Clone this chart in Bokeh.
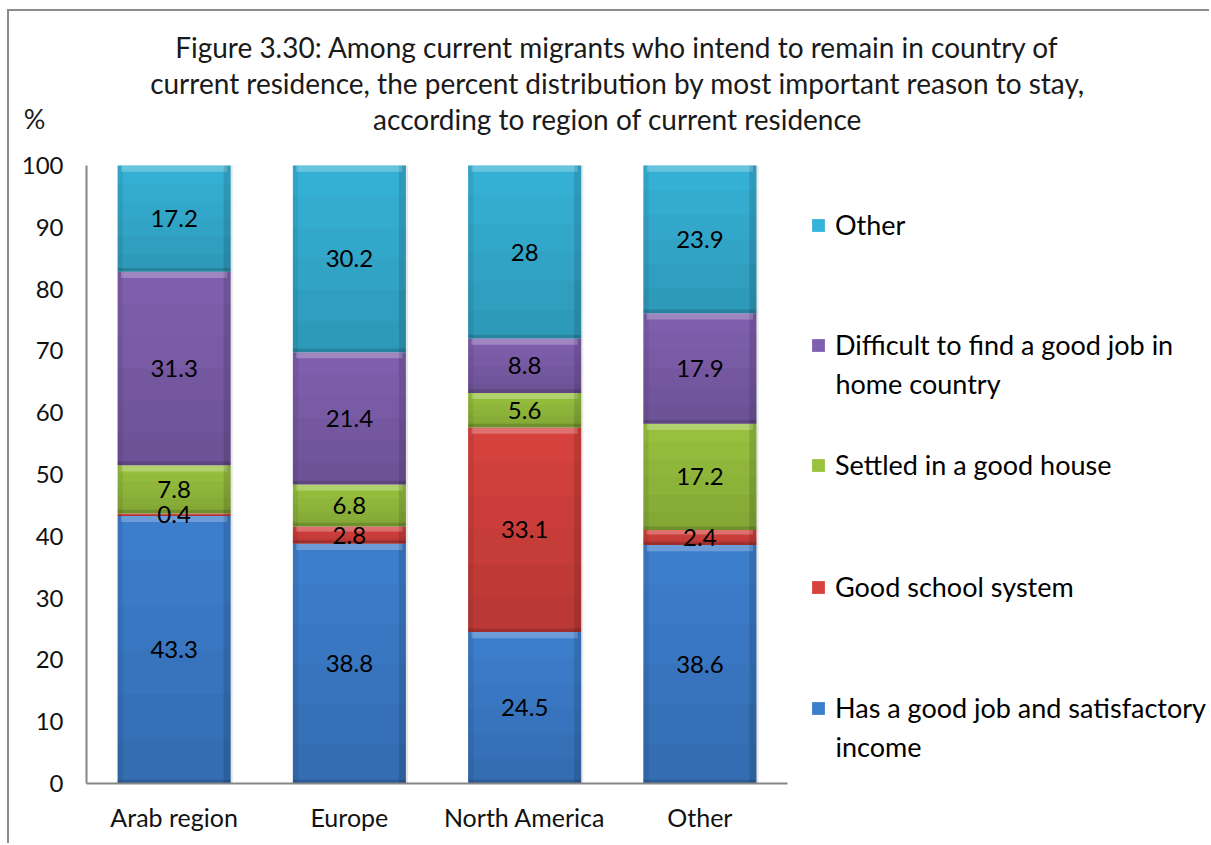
from bokeh.plotting import figure
from bokeh.models import (ColumnDataSource, Range1d, FixedTicker, Label, Legend,
                          LegendItem)
from bokeh.transform import dodge
from bokeh.core.properties import value
from bokeh.embed import file_html
from bokeh.resources import INLINE

# ---------------- data ----------------
regions = ["Arab region", "Europe", "North America", "Other"]
good_job = [43.3, 38.8, 24.5, 38.6]
good_school = [0.4, 2.8, 33.1, 2.4]
good_house = [7.8, 6.8, 5.6, 17.2]
difficult_job = [31.3, 21.4, 8.8, 17.9]
other_reason = [17.2, 30.2, 28.0, 23.9]

series_names = ["Has a good job and satisfactory income", "Good school system",
                "Settled in a good house",
                "Difficult to find a good job in home country", "Other"]
series_values = [good_job, good_school, good_house, difficult_job, other_reason]
series_colors = ["#3D7FCF", "#D8423E", "#99C33F", "#8060B0", "#36B3D8"]

# legend text lines (top-to-bottom order in legend)
legend_lines = [
    ["Other"],
    ["Difficult to find a good job in", "home country"],
    ["Settled in a good house"],
    ["Good school system"],
    ["Has a good job and satisfactory", "income"],
]
legend_series_index = [4, 3, 2, 1, 0]

y_ticks = [0, 10, 20, 30, 40, 50, 60, 70, 80, 90, 100]
title_lines = [
    "Figure 3.30: Among current migrants who intend to remain in country of",
    "current residence, the percent distribution by most important reason to stay,",
    "according to region of current residence",
]
y_unit = "%"

FONT = "Lato"
BAR_W = 0.645

# ---------------- geometry (page pixels) ----------------
CANVAS_X0, CANVAS_Y0 = 9, 11          # page position of the canvas
W, H = 1202, 834
AX_X, AX_Y = 86, 783                  # page position of the axes origin
PX_PER_CAT = 175.25
PX_PER_UNIT = 6.18

x_start = (CANVAS_X0 - AX_X) / PX_PER_CAT
x_end = (CANVAS_X0 + W - AX_X) / PX_PER_CAT
y_end = (AX_Y - CANVAS_Y0) / PX_PER_UNIT
y_start = (AX_Y - (CANVAS_Y0 + H)) / PX_PER_UNIT

def sx(px):
    return px - CANVAS_X0

def sy(py):
    return CANVAS_Y0 + H - py

p = figure(x_range=Range1d(x_start, x_end), y_range=Range1d(y_start, y_end),
           width=W, height=H, output_backend="svg", toolbar_location=None,
           min_border=0, min_border_left=0, min_border_right=0,
           min_border_top=0, min_border_bottom=0)
p.styles = {"margin-left": f"{CANVAS_X0 - 2}px", "margin-top": f"{CANVAS_Y0 - 2}px",
            "border-top": "2px solid #8c8c8c", "border-left": "2px solid #8c8c8c"}
p.outline_line_color = None
p.xgrid.grid_line_color = None
p.ygrid.grid_line_color = None

xcenters = [i + 0.5 for i in range(len(regions))]

p.yaxis.ticker = FixedTicker(ticks=y_ticks)
p.yaxis.bounds = (y_ticks[0], y_ticks[-1])
p.yaxis.fixed_location = 0
p.xaxis.ticker = FixedTicker(ticks=xcenters)
p.xaxis.major_label_overrides = {xc: r for xc, r in zip(xcenters, regions)}
p.xaxis.bounds = (0, len(regions))
p.xaxis.fixed_location = 0
for ax in (p.xaxis[0], p.yaxis[0]):
    ax.axis_line_color = "#868686"
    ax.axis_line_width = 2
    ax.major_tick_line_color = None
    ax.minor_tick_line_color = None
    ax.major_tick_out = 0
    ax.major_tick_in = 0
    ax.major_label_text_font = FONT
    ax.major_label_text_color = "#111111"
p.yaxis.major_label_text_font_size = "24px"
p.xaxis.major_label_text_font_size = "25px"
p.yaxis.major_label_standoff = 23
p.xaxis.major_label_standoff = 18

# shadow behind bars
shadow_src = ColumnDataSource(dict(x=xcenters, top=[sum(v) for v in zip(*series_values)]))
p.vbar(x=dodge("x", 0.012), top="top", bottom=0, width=BAR_W,
       source=shadow_src, fill_color="#000000", fill_alpha=0.10, line_color=None)

renderers = []
bottoms = [0.0] * len(regions)
grad_x, grad_b, grad_t, grad_a = [], [], [], []
hl_x, hl_b, hl_t = [], [], []
bt_x, bt_b, bt_t = [], [], []
ed_x, ed_b, ed_t = [], [], []
lab_x, lab_y, lab_t = [], [], []
for vals, col in zip(series_values, series_colors):
    tops = [b + v for b, v in zip(bottoms, vals)]
    src = ColumnDataSource(dict(x=xcenters, bottom=bottoms, top=tops))
    r = p.vbar(x="x", top="top", bottom="bottom", width=BAR_W, source=src,
               fill_color=col, line_color=None)
    renderers.append(r)
    for c, b, t, v in zip(xcenters, bottoms, tops, vals):
        n = 6
        for k in range(n):
            grad_x.append(c)
            grad_b.append(b + v * k / n)
            grad_t.append(b + v * (k + 1) / n)
            grad_a.append(0.15 * (1 - (k + 0.5) / n))
        hl_x.append(c); hl_b.append(t - min(1.0, 0.3 * v)); hl_t.append(t)
        bt_x.append(c); bt_b.append(b); bt_t.append(b + min(0.6, 0.2 * v))
        ed_x.append(c); ed_b.append(b); ed_t.append(t)
        lab_x.append(c); lab_y.append(b + v / 2); lab_t.append(f"{v:g}")
    bottoms = tops

p.vbar(x="x", top="top", bottom="bottom", width=BAR_W,
       source=ColumnDataSource(dict(x=grad_x, bottom=grad_b, top=grad_t, a=grad_a)),
       fill_color="#000000", fill_alpha="a", line_color=None)
p.vbar(x="x", top="top", bottom="bottom", width=BAR_W * 0.94,
       source=ColumnDataSource(dict(x=hl_x, bottom=hl_b, top=hl_t)),
       fill_color="#ffffff", fill_alpha=0.25, line_color=None)
p.vbar(x="x", top="top", bottom="bottom", width=BAR_W,
       source=ColumnDataSource(dict(x=bt_x, bottom=bt_b, top=bt_t)),
       fill_color="#000000", fill_alpha=0.15, line_color=None)
edge_src = ColumnDataSource(dict(x=ed_x, bottom=ed_b, top=ed_t))
p.vbar(x=dodge("x", BAR_W / 2 - 0.02), top="top", bottom="bottom",
       width=0.04, source=edge_src, fill_color="#000000", fill_alpha=0.12, line_color=None)
p.vbar(x=dodge("x", -BAR_W / 2 + 0.015), top="top", bottom="bottom",
       width=0.03, source=edge_src, fill_color="#000000", fill_alpha=0.07, line_color=None)

p.text(x="x", y="y", text="t",
       source=ColumnDataSource(dict(x=lab_x, y=lab_y, t=lab_t)),
       text_align="center", text_baseline="middle", text_font=value(FONT),
       text_font_size="24px", text_color="#000000")

# ---------------- title and unit ----------------
for line, yc in zip(title_lines, [46, 82, 118]):
    p.add_layout(Label(x=sx(617), y=sy(yc), x_units="screen", y_units="screen",
                       text=line, text_align="center", text_baseline="middle",
                       text_font=FONT, text_font_size="28px", text_color="#1a1a1a"))
p.add_layout(Label(x=sx(34), y=sy(118), x_units="screen", y_units="screen",
                   text=y_unit, text_align="center", text_baseline="middle",
                   text_font=FONT, text_font_size="27px", text_color="#1a1a1a"))

# ---------------- legend ----------------
legend_centers = [227, 347, 467, 589, 710]
for lines, si, yc in zip(legend_lines, legend_series_index, legend_centers):
    leg = Legend(items=[LegendItem(label=lines[0], renderers=[renderers[si]])],
                 location=(sx(810), sy(yc) - 14),
                 glyph_width=16, glyph_height=16, label_height=16, label_width=10,
                 label_standoff=9, padding=0, margin=0, spacing=0,
                 border_line_color=None, background_fill_alpha=0,
                 label_text_font=FONT, label_text_font_size="27px",
                 label_text_color="#000000")
    p.add_layout(leg)
    for k, extra in enumerate(lines[1:], start=1):
        p.add_layout(Label(x=sx(835), y=sy(yc + 36 * k), x_units="screen",
                           y_units="screen", text=extra, text_align="left",
                           text_baseline="middle", text_font=FONT,
                           text_font_size="27px", text_color="#000000"))

open("out.html", "w").write(file_html(p, INLINE))
